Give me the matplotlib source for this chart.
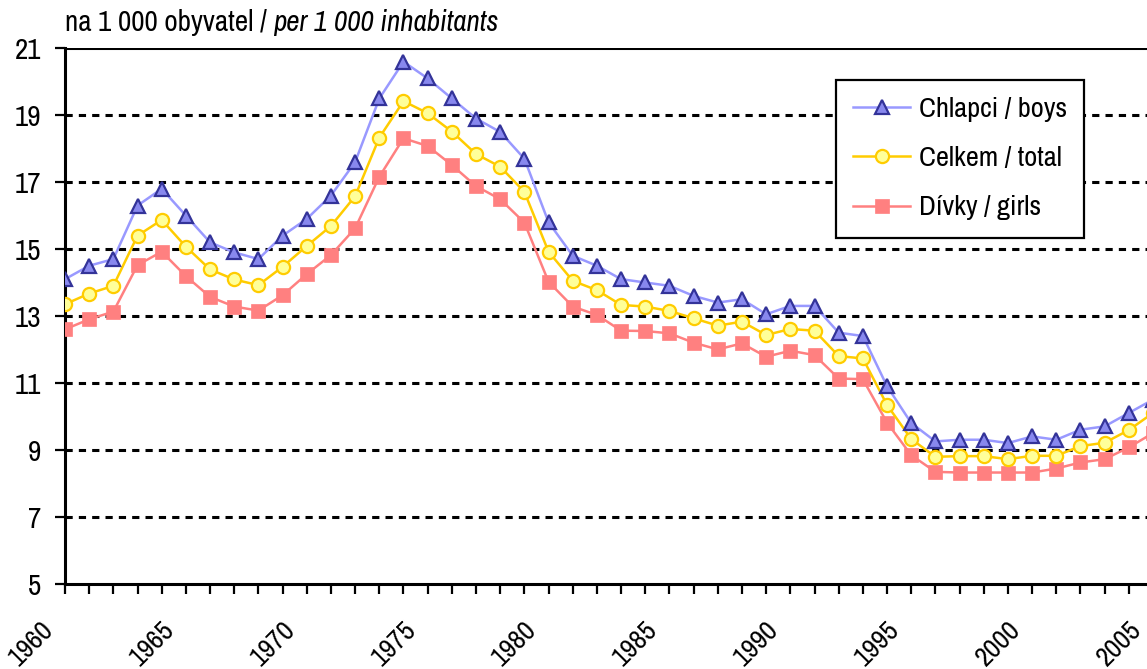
import matplotlib
matplotlib.use("Agg")
import matplotlib.pyplot as plt
import matplotlib.transforms as mtransforms
import numpy as np

plt.rcParams['font.family'] = ['Archivo Narrow', 'DejaVu Sans']
plt.rcParams['lines.scale_dashes'] = False

years = list(range(1960, 2006))

boys = [14.1, 14.5, 14.7, 16.3, 16.8, 16.0, 15.2, 14.9, 14.7, 15.4,
        15.9, 16.6, 17.6, 19.5, 20.6, 20.1, 19.5, 18.9, 18.5, 17.7,
        15.8, 14.8, 14.5, 14.1, 14.0, 13.9, 13.6, 13.4, 13.5, 13.05,
        13.3, 13.3, 12.5, 12.4, 10.9, 9.8, 9.25, 9.3, 9.3, 9.2,
        9.4, 9.3, 9.6, 9.7, 10.1, 10.5]

total = [13.35, 13.67, 13.9, 15.4, 15.87, 15.07, 14.39, 14.09, 13.92, 14.47,
         15.09, 15.69, 16.58, 18.33, 19.42, 19.06, 18.51, 17.84, 17.46, 16.71,
         14.92, 14.05, 13.77, 13.33, 13.28, 13.15, 12.93, 12.71, 12.83, 12.43,
         12.61, 12.56, 11.8, 11.73, 10.34, 9.32, 8.79, 8.81, 8.81, 8.72,
         8.82, 8.82, 9.11, 9.21, 9.59, 10.1]

girls = [12.6, 12.9, 13.13, 14.52, 14.92, 14.19, 13.57, 13.28, 13.16, 13.62,
         14.25, 14.82, 15.62, 17.16, 18.31, 18.08, 17.51, 16.88, 16.49, 15.79,
         14.02, 13.28, 13.03, 12.56, 12.55, 12.48, 12.2, 12.0, 12.18, 11.78,
         11.96, 11.83, 11.13, 11.11, 9.81, 8.84, 8.34, 8.32, 8.32, 8.32,
         8.32, 8.44, 8.62, 8.72, 9.07, 9.5]

labels = ['Chlapci / boys', 'Celkem / total', 'Dívky / girls']
title = 'na 1 000 obyvatel / '
title_it = 'per 1 000 inhabitants'
yticks = [5, 7, 9, 11, 13, 15, 17, 19, 21]
xticks_major = [1960, 1965, 1970, 1975, 1980, 1985, 1990, 1995, 2000, 2005]

W, H = 1147, 669
fig = plt.figure(figsize=(W / 100, H / 100), dpi=100)
ax = fig.add_axes([65 / W, 1 - 583.6 / H, (1153 - 65) / W, (583.6 - 48.3) / H])
ax.set_xlim(1960, 2005)
ax.set_ylim(5, 21)

# grid
for yv in yticks[1:-1]:
    ax.axhline(yv, color='black', lw=2.2, dashes=(5.2, 4.4), zorder=1)
ax.axhline(21, color='black', lw=2.2, zorder=1)

l3, = ax.plot(years, girls, color='#FF8080', lw=1.8, marker='s', ms=9.5,
              mfc='#FF8080', mec='#FF8080', mew=0.5, zorder=3, label=labels[2])
l2, = ax.plot(years, total, color='#FFCC00', lw=1.8, marker='o', ms=9.5,
              mfc='#FFFF99', mec='#FFCC00', mew=1.6, zorder=4, label=labels[1])
l1, = ax.plot(years, boys, color='#9999FF', lw=1.8, marker='^', ms=10.5,
              mfc='#8888EE', mec='#333399', mew=1.6, zorder=5, label=labels[0])

for s in ['top', 'right']:
    ax.spines[s].set_visible(False)
ax.spines['left'].set_linewidth(2.2)
ax.spines['bottom'].set_linewidth(2.2)

ax.set_yticks(yticks)
ax.set_yticklabels([str(v) for v in yticks], fontsize=21)
ax.tick_params(axis='y', direction='out', length=7, width=1.6, pad=10)

ax.set_xticks(years, minor=True)
ax.set_xticks(xticks_major)
ax.set_xticklabels([str(v) for v in xticks_major], fontsize=20, rotation=45,
                   ha='right', va='top')
ax.tick_params(axis='x', which='both', direction='out', length=7, width=1.6, pad=17)
offset = mtransforms.ScaledTranslation(-0.07, 0, fig.dpi_scale_trans)
for lab in ax.get_xticklabels():
    lab.set_transform(lab.get_transform() + offset)

leg = ax.legend(handles=[l1, l2, l3], loc='upper left',
                bbox_to_anchor=(836 / W, 1 - 80 / H), bbox_transform=fig.transFigure,
                fontsize=20.5, frameon=True, fancybox=False, framealpha=1,
                edgecolor='black', handlelength=2.0, handletextpad=0.3,
                labelspacing=0.85, borderpad=0.6, borderaxespad=0)
leg.get_frame().set_linewidth(1.6)
leg.set_zorder(10)

t1 = fig.text(65 / W, 1 - 31 / H, title, fontsize=21, va='baseline', ha='left')
fig.canvas.draw()
bb = t1.get_window_extent()
fig.text(bb.x1 / W, 1 - 31 / H, title_it, fontsize=21, va='baseline', ha='left',
         style='italic')

fig.savefig('out.png', dpi=100)
